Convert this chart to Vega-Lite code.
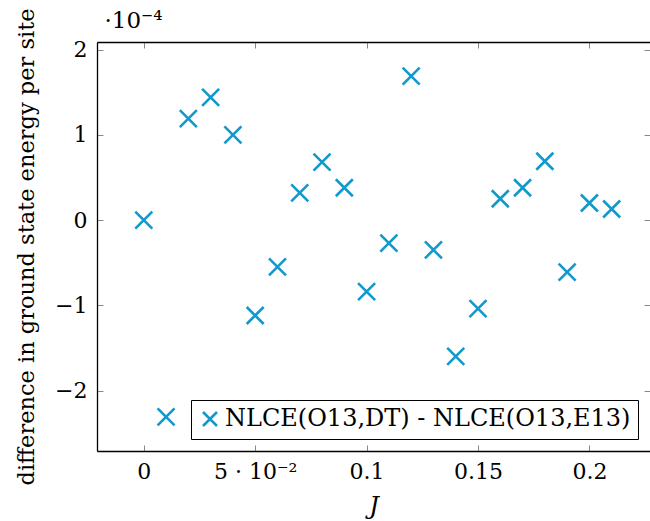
{
  "$schema": "https://vega.github.io/schema/vega-lite/v6.json",
  "autosize": "none",
  "width": 553,
  "height": 409,
  "padding": {"left": 97, "top": 42, "right": 0, "bottom": 70},
  "background": "white",
  "config": {
    "view": {"stroke": null},
    "font": "DejaVu Serif",
    "axis": {"grid": false, "labelFont": "DejaVu Serif", "titleFont": "DejaVu Serif", "labelColor": "black", "titleColor": "black", "titleFontWeight": "normal"},
    "legend": {"labelFont": "DejaVu Serif"}
  },
  "data": {
    "values": [
      {"J": 0.00, "diff": 0.00e-4, "series": "NLCE(O13,DT) - NLCE(O13,E13)"},
      {"J": 0.01, "diff": -2.31e-4, "series": "NLCE(O13,DT) - NLCE(O13,E13)"},
      {"J": 0.02, "diff": 1.19e-4, "series": "NLCE(O13,DT) - NLCE(O13,E13)"},
      {"J": 0.03, "diff": 1.44e-4, "series": "NLCE(O13,DT) - NLCE(O13,E13)"},
      {"J": 0.04, "diff": 1.00e-4, "series": "NLCE(O13,DT) - NLCE(O13,E13)"},
      {"J": 0.05, "diff": -1.12e-4, "series": "NLCE(O13,DT) - NLCE(O13,E13)"},
      {"J": 0.06, "diff": -0.55e-4, "series": "NLCE(O13,DT) - NLCE(O13,E13)"},
      {"J": 0.07, "diff": 0.32e-4, "series": "NLCE(O13,DT) - NLCE(O13,E13)"},
      {"J": 0.08, "diff": 0.68e-4, "series": "NLCE(O13,DT) - NLCE(O13,E13)"},
      {"J": 0.09, "diff": 0.38e-4, "series": "NLCE(O13,DT) - NLCE(O13,E13)"},
      {"J": 0.10, "diff": -0.84e-4, "series": "NLCE(O13,DT) - NLCE(O13,E13)"},
      {"J": 0.11, "diff": -0.27e-4, "series": "NLCE(O13,DT) - NLCE(O13,E13)"},
      {"J": 0.12, "diff": 1.69e-4, "series": "NLCE(O13,DT) - NLCE(O13,E13)"},
      {"J": 0.13, "diff": -0.35e-4, "series": "NLCE(O13,DT) - NLCE(O13,E13)"},
      {"J": 0.14, "diff": -1.60e-4, "series": "NLCE(O13,DT) - NLCE(O13,E13)"},
      {"J": 0.15, "diff": -1.04e-4, "series": "NLCE(O13,DT) - NLCE(O13,E13)"},
      {"J": 0.16, "diff": 0.25e-4, "series": "NLCE(O13,DT) - NLCE(O13,E13)"},
      {"J": 0.17, "diff": 0.38e-4, "series": "NLCE(O13,DT) - NLCE(O13,E13)"},
      {"J": 0.18, "diff": 0.69e-4, "series": "NLCE(O13,DT) - NLCE(O13,E13)"},
      {"J": 0.19, "diff": -0.61e-4, "series": "NLCE(O13,DT) - NLCE(O13,E13)"},
      {"J": 0.20, "diff": 0.20e-4, "series": "NLCE(O13,DT) - NLCE(O13,E13)"},
      {"J": 0.21, "diff": 0.13e-4, "series": "NLCE(O13,DT) - NLCE(O13,E13)"}
    ]
  },
  "layer": [
    {
      "mark": {"type": "point", "shape": "M-1,-1L1,1M-1,1L1,-1", "filled": false, "strokeWidth": 2.6, "size": 289, "opacity": 1},
      "encoding": {
        "x": {
          "field": "J", "type": "quantitative",
          "scale": {"domain": [-0.021, 0.2272], "nice": false, "zero": false},
          "axis": {
            "orient": "bottom", "values": [0, 0.05, 0.1, 0.15, 0.2],
            "labelExpr": "abs(datum.value - 0.05) < 1e-9 ? '5 · 10⁻²' : format(datum.value, '~g')",
            "labelFontSize": 22, "labelPadding": 16, "labelFlush": false,
            "tickSize": -6, "tickColor": "#888888", "tickWidth": 1,
            "domainColor": "black", "domainWidth": 1.3,
            "title": "J", "titleFontStyle": "italic", "titleFontSize": 24, "titlePadding": 12
          }
        },
        "y": {
          "field": "diff", "type": "quantitative",
          "scale": {"domain": [-2.71e-4, 2.09e-4], "nice": false, "zero": false},
          "axis": {
            "orient": "left", "values": [-2e-4, -1e-4, 0, 1e-4, 2e-4],
            "labelExpr": "format(round(datum.value * 1e4), 'd')",
            "labelFontSize": 22, "labelPadding": 16, "labelFlush": false,
            "tickSize": -6, "tickColor": "#888888", "tickWidth": 1,
            "domainColor": "black", "domainWidth": 1.3,
            "title": "difference in ground state energy per site", "titleFontSize": 22.5, "titlePadding": 16
          }
        },
        "color": {
          "field": "series", "type": "nominal",
          "scale": {"range": ["#1199cc"]},
          "legend": {
            "title": null, "orient": "bottom-right", "offset": 12,
            "labelFontSize": 24, "labelColor": "black", "labelLimit": 600,
            "strokeColor": "black", "fillColor": "white", "padding": 7, "cornerRadius": 0,
            "symbolSize": 196, "symbolStrokeWidth": 2.6, "labelOffset": 3
          }
        }
      }
    },
    {
      "mark": {"type": "point", "opacity": 0},
      "encoding": {
        "x": {
          "field": "J", "type": "quantitative",
          "axis": {"orient": "top", "values": [0, 0.05, 0.1, 0.15, 0.2], "labels": false,
            "title": "·10⁻⁴", "titleAnchor": "start", "titleAlign": "left", "titleX": 7, "titlePadding": 9,
            "titleFontSize": 23, "titleFontWeight": "normal",
            "tickSize": -6, "tickColor": "#888888", "tickWidth": 1, "domainColor": "black", "domainWidth": 1.3}
        },
        "y": {
          "field": "diff", "type": "quantitative",
          "axis": {"orient": "right", "values": [-2e-4, -1e-4, 0, 1e-4, 2e-4], "labels": false, "title": null, "tickSize": -6, "tickColor": "#888888", "tickWidth": 1, "domain": false}
        }
      }
    }
  ],
  "resolve": {"axis": {"x": "independent", "y": "independent"}}
}
